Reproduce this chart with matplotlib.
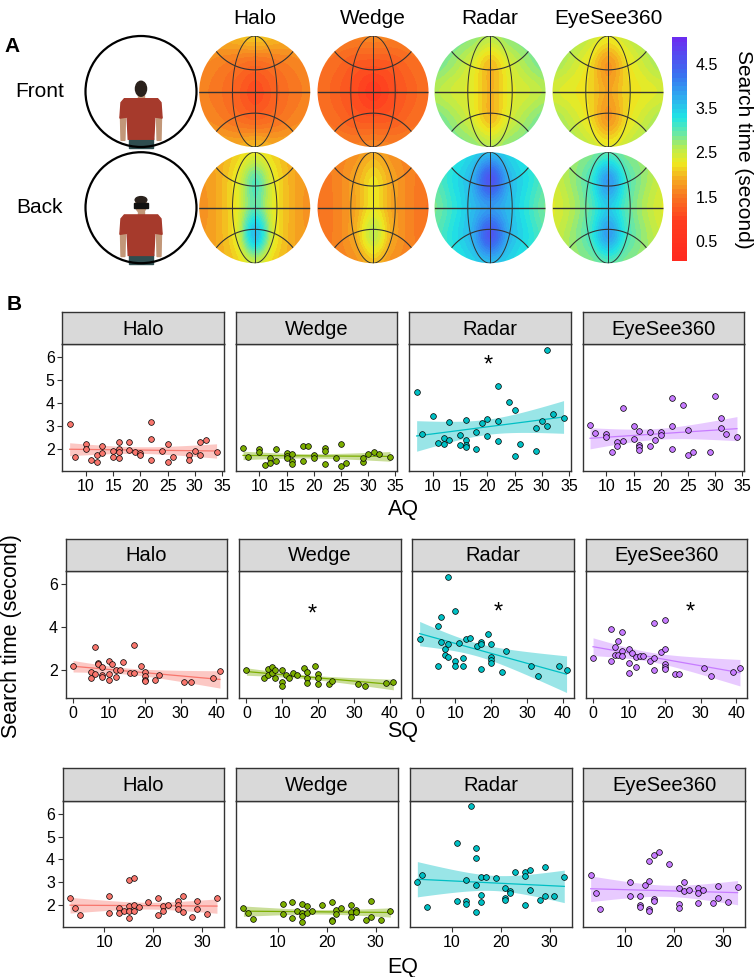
import numpy as np
import matplotlib.pyplot as plt
from matplotlib.colors import LinearSegmentedColormap, Normalize
from matplotlib.patches import Circle, Ellipse, Polygon, Rectangle
from matplotlib.cm import ScalarMappable

plt.rcParams['font.family'] = ['Liberation Sans', 'DejaVu Sans']

W, H = 754, 977

# ---------------- panel A data: search time over the sphere
# 5 rows (top -> bottom) x 7 columns (left -> right)
techniques = ['Halo', 'Wedge', 'Radar', 'EyeSee360']
views = ['Front', 'Back']

front_halo = [[1.9, 1.9, 2.0, 2.1, 2.0, 1.9, 1.9],
              [1.7, 1.6, 1.5, 1.4, 1.5, 1.6, 1.7],
              [1.6, 1.5, 1.3, 1.1, 1.3, 1.5, 1.6],
              [1.7, 1.6, 1.45, 1.35, 1.45, 1.6, 1.7],
              [1.9, 1.9, 1.9, 2.0, 1.9, 1.9, 1.9]]
front_wedge = [[1.6, 1.6, 1.6, 1.65, 1.6, 1.6, 1.6],
               [1.5, 1.4, 1.25, 1.2, 1.25, 1.4, 1.5],
               [1.45, 1.3, 1.1, 0.9, 1.1, 1.3, 1.45],
               [1.5, 1.4, 1.25, 1.2, 1.25, 1.4, 1.5],
               [1.6, 1.6, 1.6, 1.65, 1.6, 1.6, 1.6]]
front_radar = [[3.0, 2.9, 2.8, 2.6, 2.8, 2.9, 3.0],
               [2.9, 2.7, 2.4, 2.0, 2.4, 2.7, 2.9],
               [2.6, 2.45, 2.3, 1.95, 2.3, 2.45, 2.6],
               [2.9, 2.7, 2.4, 2.0, 2.4, 2.7, 2.9],
               [3.0, 2.9, 2.8, 2.6, 2.8, 2.9, 3.0]]
front_eyesee = [[2.8, 2.7, 2.5, 2.3, 2.5, 2.7, 2.8],
                [2.7, 2.5, 2.2, 1.75, 2.2, 2.5, 2.7],
                [2.4, 2.3, 2.15, 1.85, 2.15, 2.3, 2.4],
                [2.7, 2.5, 2.2, 1.75, 2.2, 2.5, 2.7],
                [2.8, 2.7, 2.5, 2.3, 2.5, 2.7, 2.8]]
back_halo = [[1.8, 1.9, 2.1, 2.3, 2.1, 1.9, 1.8],
             [1.75, 1.9, 2.3, 3.0, 2.3, 1.9, 1.75],
             [1.7, 1.9, 2.3, 3.0, 2.3, 1.9, 1.7],
             [1.75, 1.9, 2.35, 3.6, 2.35, 1.9, 1.75],
             [1.8, 1.9, 2.1, 2.5, 2.1, 1.9, 1.8]]
back_wedge = [[1.55, 1.6, 1.7, 1.9, 1.7, 1.6, 1.55],
              [1.5, 1.6, 1.85, 2.2, 1.85, 1.6, 1.5],
              [1.45, 1.6, 1.85, 2.25, 1.85, 1.6, 1.45],
              [1.5, 1.6, 1.9, 2.55, 1.9, 1.6, 1.5],
              [1.55, 1.6, 1.7, 2.0, 1.7, 1.6, 1.55]]
back_radar = [[3.1, 3.2, 3.4, 3.6, 3.4, 3.2, 3.1],
              [3.0, 3.3, 3.7, 4.6, 3.7, 3.3, 3.0],
              [2.85, 3.2, 3.6, 3.9, 3.6, 3.2, 2.85],
              [3.0, 3.3, 3.7, 4.55, 3.7, 3.3, 3.0],
              [3.1, 3.2, 3.4, 3.6, 3.4, 3.2, 3.1]]
back_eyesee = [[2.6, 2.7, 2.8, 3.0, 2.8, 2.7, 2.6],
               [2.45, 2.7, 3.1, 3.9, 3.1, 2.7, 2.45],
               [2.35, 2.6, 3.0, 3.5, 3.0, 2.6, 2.35],
               [2.45, 2.7, 3.1, 3.85, 3.1, 2.7, 2.45],
               [2.6, 2.7, 2.8, 3.0, 2.8, 2.7, 2.6]]

cbar_ticks = [0.5, 1.5, 2.5, 3.5, 4.5]

# ---------------- panel B data: questionnaire score vs search time
aq_halo_x = [7, 8, 10, 10, 11, 12, 12, 13, 13, 15, 15, 16, 16, 16, 16, 18, 18, 19, 20, 20, 22, 22, 22, 24, 25, 25, 26, 29, 29, 30, 31, 31, 32, 34]
aq_halo_y = [3.06, 1.65, 2.2, 1.97, 1.52, 1.72, 1.43, 2.1, 1.8, 1.88, 1.64, 2.3, 1.97, 1.85, 1.57, 2.29, 1.93, 1.84, 1.8, 1.7, 3.15, 2.4, 1.5, 1.9, 2.19, 1.41, 1.64, 1.7, 1.5, 1.9, 2.3, 1.72, 2.36, 1.84]
aq_wedge_x = [7, 8, 10, 10, 11, 12, 12, 13, 13, 15, 15, 15, 16, 16, 16, 18, 18, 19, 20, 20, 22, 22, 22, 24, 25, 25, 26, 29, 29, 30, 31, 32, 34]
aq_wedge_y = [2.03, 1.64, 1.97, 1.84, 1.28, 1.6, 1.38, 1.99, 1.46, 1.81, 1.68, 1.57, 1.75, 1.46, 1.32, 2.1, 1.46, 2.1, 1.72, 1.6, 2.01, 1.9, 1.33, 1.6, 2.2, 1.26, 1.39, 1.42, 1.57, 1.74, 1.84, 1.78, 1.65]
aq_radar_x = [7, 8, 10, 11, 12, 12, 13, 13, 15, 15, 16, 16, 16, 18, 18, 19, 20, 20, 22, 22, 22, 24, 25, 25, 26, 29, 29, 30, 31, 31, 32, 34, 16]
aq_radar_y = [4.48, 2.64, 3.42, 2.22, 2.45, 2.2, 3.17, 2.39, 2.59, 2.16, 3.23, 2.39, 2.16, 2.72, 1.97, 3.1, 3.29, 2.54, 4.71, 3.2, 2.32, 4.04, 3.68, 1.68, 2.19, 2.88, 1.88, 3.2, 6.3, 2.99, 3.51, 3.32, 2.08]
aq_eyesee_x = [7, 8, 10, 10, 11, 12, 12, 13, 13, 15, 15, 16, 16, 16, 16, 18, 18, 19, 20, 20, 22, 22, 22, 24, 25, 25, 26, 29, 30, 31, 31, 32, 34]
aq_eyesee_y = [3.04, 2.67, 2.65, 2.52, 1.86, 2.28, 2.1, 3.78, 2.32, 3.0, 2.42, 2.75, 2.14, 2.07, 1.94, 2.72, 2.1, 2.39, 2.72, 2.59, 4.2, 2.97, 2.0, 3.91, 2.81, 1.72, 1.87, 1.83, 4.3, 3.32, 2.88, 2.64, 2.52]

sq_halo_x = [0, 5, 5, 6, 6, 7, 7, 8, 8, 8, 10, 10, 10, 11, 12, 12, 13, 14, 16, 17, 17, 19, 20, 20, 20, 20, 23, 24, 31, 33, 39, 41]
sq_halo_y = [2.2, 1.91, 1.63, 3.07, 1.8, 2.31, 2.26, 2.11, 1.74, 1.66, 2.4, 1.8, 1.52, 2.29, 1.97, 1.67, 2.0, 2.37, 1.83, 3.15, 1.84, 2.19, 1.89, 1.69, 1.53, 1.47, 1.52, 1.74, 1.44, 1.43, 1.63, 1.94]
sq_wedge_x = [0, 5, 6, 6, 7, 7, 8, 8, 10, 10, 10, 11, 12, 13, 14, 16, 17, 17, 17, 19, 20, 20, 20, 23, 24, 31, 33, 39, 41]
sq_wedge_y = [1.97, 1.6, 2.03, 1.75, 2.12, 1.83, 1.97, 1.63, 2.0, 1.44, 1.27, 1.74, 1.6, 1.86, 1.75, 2.09, 1.92, 1.64, 1.41, 2.2, 1.81, 1.63, 1.33, 1.36, 1.49, 1.33, 1.27, 1.38, 1.44]
sq_radar_x = [0, 5, 5, 6, 6, 7, 7, 8, 8, 8, 10, 10, 10, 11, 12, 12, 13, 14, 16, 17, 17, 17, 19, 20, 20, 20, 20, 23, 24, 31, 33, 39, 41]
sq_radar_y = [3.43, 4.05, 2.17, 4.48, 3.29, 2.98, 2.71, 6.33, 3.19, 2.62, 4.74, 2.4, 2.2, 3.24, 2.53, 2.16, 3.44, 3.5, 3.09, 3.3, 3.21, 2.06, 3.67, 3.19, 2.62, 2.47, 2.31, 1.88, 2.87, 2.2, 1.69, 2.19, 1.97]
sq_eyesee_x = [0, 5, 5, 6, 6, 7, 7, 8, 8, 8, 10, 10, 10, 11, 12, 12, 13, 14, 16, 17, 17, 17, 19, 20, 20, 20, 20, 20, 23, 24, 31, 33, 39, 41]
sq_eyesee_y = [2.56, 3.92, 2.42, 3.04, 2.71, 3.32, 2.71, 3.77, 2.88, 2.65, 2.98, 2.31, 1.84, 2.79, 2.62, 2.14, 2.65, 2.65, 2.39, 4.2, 2.53, 1.97, 2.81, 4.33, 2.98, 2.25, 2.14, 2.02, 1.81, 1.81, 2.09, 1.72, 1.88, 2.09]

eq_halo_x = [3, 4, 5, 11, 11, 13, 13, 14, 15, 15, 15, 15, 16, 16, 16, 17, 19, 21, 21, 22, 22, 23, 25, 25, 25, 26, 26, 28, 29, 29, 31, 33]
eq_halo_y = [2.32, 1.86, 1.55, 2.42, 1.65, 1.88, 1.65, 1.75, 3.09, 1.94, 1.75, 1.43, 3.17, 1.99, 1.72, 1.93, 2.12, 2.3, 1.55, 1.94, 1.72, 2.01, 2.2, 2.0, 1.81, 2.38, 1.68, 1.46, 2.2, 1.81, 1.61, 2.32]
eq_wedge_x = [3, 4, 5, 11, 11, 13, 13, 14, 15, 15, 15, 15, 16, 16, 17, 19, 21, 21, 21, 22, 22, 23, 25, 25, 25, 26, 26, 28, 29, 29, 31, 33]
eq_wedge_y = [1.88, 1.67, 1.38, 2.03, 1.61, 2.12, 1.45, 1.74, 2.06, 1.65, 1.52, 1.28, 1.94, 1.65, 1.74, 2.0, 2.12, 1.35, 1.3, 1.8, 1.61, 1.88, 1.99, 1.71, 1.48, 1.8, 1.68, 1.35, 2.2, 1.48, 1.33, 1.75]
eq_radar_x = [3, 4, 5, 11, 11, 13, 13, 13, 14, 15, 15, 15, 15, 16, 16, 16, 17, 19, 21, 21, 21, 22, 22, 23, 25, 25, 25, 26, 26, 28, 29, 29, 31, 33]
eq_radar_y = [2.99, 3.32, 1.9, 4.74, 2.17, 3.12, 2.19, 2.07, 6.32, 4.49, 4.06, 2.9, 1.7, 3.22, 2.46, 2.14, 3.22, 3.2, 2.74, 2.33, 2.23, 2.62, 2.55, 3.43, 3.43, 3.29, 2.0, 3.52, 2.64, 2.22, 3.68, 2.41, 2.41, 3.23]
eq_eyesee_x = [3, 4, 5, 11, 11, 13, 13, 13, 14, 15, 15, 15, 15, 16, 16, 16, 17, 19, 21, 21, 21, 22, 22, 23, 25, 25, 25, 26, 28, 29, 29, 31, 33]
eq_eyesee_y = [3.32, 2.52, 1.83, 2.99, 2.42, 2.39, 2.0, 1.91, 2.9, 3.91, 3.06, 1.84, 1.72, 4.19, 2.28, 2.16, 4.32, 3.8, 2.75, 2.03, 1.86, 3.0, 2.61, 2.67, 2.74, 2.55, 2.1, 2.67, 2.1, 2.84, 2.33, 2.12, 2.78]

scales = ['AQ', 'SQ', 'EQ']
x_ticks = {'AQ': [10, 15, 20, 25, 30, 35], 'SQ': [0, 10, 20, 30, 40], 'EQ': [10, 20, 30]}
y_ticks = {'AQ': [2, 3, 4, 5, 6], 'SQ': [2, 4, 6], 'EQ': [2, 3, 4, 5, 6]}
# significant correlations: (scale, technique, x, y)
stars = [('AQ', 'Radar', 20.2, 5.6), ('SQ', 'Wedge', 18.4, 4.56),
         ('SQ', 'Radar', 21.9, 4.68), ('SQ', 'EyeSee360', 27.2, 4.67)]

table = {
    ('AQ', 'Halo'): (aq_halo_x, aq_halo_y), ('AQ', 'Wedge'): (aq_wedge_x, aq_wedge_y),
    ('AQ', 'Radar'): (aq_radar_x, aq_radar_y), ('AQ', 'EyeSee360'): (aq_eyesee_x, aq_eyesee_y),
    ('SQ', 'Halo'): (sq_halo_x, sq_halo_y), ('SQ', 'Wedge'): (sq_wedge_x, sq_wedge_y),
    ('SQ', 'Radar'): (sq_radar_x, sq_radar_y), ('SQ', 'EyeSee360'): (sq_eyesee_x, sq_eyesee_y),
    ('EQ', 'Halo'): (eq_halo_x, eq_halo_y), ('EQ', 'Wedge'): (eq_wedge_x, eq_wedge_y),
    ('EQ', 'Radar'): (eq_radar_x, eq_radar_y), ('EQ', 'EyeSee360'): (eq_eyesee_x, eq_eyesee_y),
}
spheres = {
    ('Front', 'Halo'): front_halo, ('Front', 'Wedge'): front_wedge,
    ('Front', 'Radar'): front_radar, ('Front', 'EyeSee360'): front_eyesee,
    ('Back', 'Halo'): back_halo, ('Back', 'Wedge'): back_wedge,
    ('Back', 'Radar'): back_radar, ('Back', 'EyeSee360'): back_eyesee,
}

colors = ['#F8766D', '#7CAE00', '#00BFC4', '#C77CFF']

cmap = LinearSegmentedColormap.from_list('st', [
    (0.0, '#ff2a1f'), (0.17, '#ff3c1f'), (0.29, '#f87a22'), (0.37, '#f5b020'),
    (0.435, '#eeea20'), (0.505, '#b8ec50'), (0.565, '#70e8a0'), (0.644, '#20e4e4'),
    (0.743, '#30a8f0'), (0.842, '#3a70f0'), (1.0, '#6a2ef0')]).resampled(50)
norm = Normalize(0.05, 5.1)


def rect(x0, y0, x1, y1):
    return [x0 / W, 1 - y1 / H, (x1 - x0) / W, (y1 - y0) / H]


def draw_sphere(ax, grid):
    clip = Circle((0, 0), 1, transform=ax.transData)
    g = np.array(grid)
    hx = 1 + 1 / (g.shape[1] - 1)
    hy = 1 + 1 / (g.shape[0] - 1)
    im = ax.imshow(g, extent=(-hx, hx, -hy, hy), cmap=cmap, norm=norm,
                   interpolation='catrom', aspect='auto')
    im.set_clip_path(clip)
    t = np.linspace(-np.pi / 2, np.pi / 2, 100)
    th = np.linspace(0, 2 * np.pi, 300)
    lines = []
    lines += ax.plot([-1, 1], [0, 0], color='#333333', lw=1.0)
    lines += ax.plot([0, 0], [-1, 1], color='#333333', lw=0.7)
    for s in (1, -1):
        lines += ax.plot(s * 0.4 * np.cos(t), np.sin(t), color='#333333', lw=0.7)
        lines += ax.plot(0.886 * np.cos(th), s * 1.276 + 0.886 * np.sin(th), color='#333333', lw=0.8)
    for ln in lines:
        ln.set_clip_path(clip)


def draw_person(ax, facing):
    skin, shirt, shorts, hair = '#c29778', '#a63a2c', '#2f4d4f', '#2a211c'
    ax.add_patch(Circle((0, 0), 1, fill=False, lw=1.6, color='black', zorder=5))
    ax.add_patch(Rectangle((-0.05, -0.16), 0.1, 0.1, color=skin, zorder=2))
    ax.add_patch(Polygon([(-0.3, -0.13), (0.3, -0.13), (0.36, -0.2), (0.38, -0.48),
                          (0.25, -0.46), (0.23, -0.86), (-0.23, -0.86), (-0.25, -0.46),
                          (-0.38, -0.48), (-0.36, -0.2)], color=shirt, zorder=3))
    for s in (1, -1):
        ax.add_patch(Polygon([(s * 0.28, -0.45), (s * 0.37, -0.45), (s * 0.36, -0.88),
                              (s * 0.29, -0.88)], color=skin, zorder=2))
    ax.add_patch(Rectangle((-0.22, -1.02), 0.44, 0.18, color=shorts, zorder=2))
    if facing:
        ax.add_patch(Ellipse((0, 0.05), 0.2, 0.27, color=skin, zorder=3))
        ax.add_patch(Ellipse((0, 0.14), 0.21, 0.12, color=hair, zorder=3))
        ax.add_patch(Rectangle((-0.13, 0.0), 0.26, 0.09, color='#111111', zorder=4))
    else:
        ax.add_patch(Ellipse((0, 0.05), 0.2, 0.27, color=hair, zorder=3))


fig = plt.figure(figsize=(W / 100, H / 100), dpi=100)

# ---------------- panel A
R = 55.5
sphere_x = [254.7, 373, 490, 608]
sphere_y = [91.5, 207.7]
for r, view in enumerate(views):
    cy = sphere_y[r]
    pax = fig.add_axes(rect(141 - 1.1 * R, cy - 1.1 * R, 141 + 1.1 * R, cy + 1.1 * R))
    pax.set_xlim(-1.1, 1.1)
    pax.set_ylim(-1.1, 1.1)
    pax.axis('off')
    draw_person(pax, facing=(view == 'Back'))
    fig.text(40 / W, 1 - cy / H, view, fontsize=15, ha='center', va='center')
    for c, tech in enumerate(techniques):
        cx = sphere_x[c]
        ax = fig.add_axes(rect(cx - 1.1 * R, cy - 1.1 * R, cx + 1.1 * R, cy + 1.1 * R))
        draw_sphere(ax, spheres[(view, tech)])
        ax.set_xlim(-1.1, 1.1)
        ax.set_ylim(-1.1, 1.1)
        ax.axis('off')
        if r == 0:
            fig.text(cx / W, 1 - 18 / H, tech, fontsize=15, ha='center', va='center')

cax = fig.add_axes(rect(672, 37.3, 687, 260.7))
cb = fig.colorbar(ScalarMappable(norm=norm, cmap=cmap), cax=cax)
cb.outline.set_visible(False)
cb.set_ticks(cbar_ticks)
cb.set_ticklabels([f'{v:.1f}' for v in cbar_ticks])
cax.tick_params(length=0, labelsize=11.5, pad=6)
fig.text(743 / W, 1 - 149 / H, 'Search time (second)', fontsize=15, rotation=270,
         ha='center', va='center')
fig.text(12 / W, 1 - 47 / H, 'A', fontsize=15, fontweight='bold', ha='center', va='center')

# ---------------- panel B
row_geom = {'AQ': (312.3, 344, 471.3, [62.3, 235.7, 409.3, 582.7], 510),
            'SQ': (539, 571, 698.3, [65.7, 239.1, 412.3, 585.7], 731),
            'EQ': (768.3, 800.7, 927.3, [62.7, 236.1, 410, 583.3], 967)}
pw = 161.6


def fit_band(x, y):
    x = np.asarray(x, float)
    y = np.asarray(y, float)
    n = len(x)
    b1, b0 = np.polyfit(x, y, 1)
    xs = np.linspace(x.min(), x.max(), 80)
    s = np.sqrt(np.sum((y - (b0 + b1 * x)) ** 2) / (n - 2))
    sxx = np.sum((x - x.mean()) ** 2)
    se = s * np.sqrt(1 / n + (xs - x.mean()) ** 2 / sxx)
    yh = b0 + b1 * xs
    return xs, yh, yh - 2.04 * se, yh + 2.04 * se


for sc in scales:
    st, pt, pb, lefts, title_y = row_geom[sc]
    fits = {tech: fit_band(*table[(sc, tech)]) for tech in techniques}
    lo = min(min(min(table[(sc, t)][1]), fits[t][2].min()) for t in techniques)
    hi = max(max(max(table[(sc, t)][1]), fits[t][3].max()) for t in techniques)
    pad = 0.05 * (hi - lo)
    for c, tech in enumerate(techniques):
        x, y = table[(sc, tech)]
        xs, yh, ylo, yhi = fits[tech]
        ax = fig.add_axes(rect(lefts[c], pt, lefts[c] + pw, pb))
        ax.fill_between(xs, ylo, yhi, color=colors[c], alpha=0.4, lw=0)
        ax.plot(xs, yh, color=colors[c], lw=0.9)
        ax.scatter(x, y, s=17, c=colors[c], edgecolors='black', linewidths=0.5, zorder=3)
        xpad = 0.05 * (max(x) - min(x))
        ax.set_xlim(min(x) - xpad, max(x) + xpad)
        ax.set_ylim(lo - pad, hi + pad)
        ax.set_xticks(x_ticks[sc])
        ax.set_yticks(y_ticks[sc])
        ax.tick_params(direction='out', length=3.5, width=0.8, color='#333333',
                       labelsize=11.5, pad=2)
        if c > 0:
            ax.tick_params(axis='y', left=False, labelleft=False)
        for sp in ax.spines.values():
            sp.set_color('#333333')
            sp.set_linewidth(1.0)
        for (s_sc, s_t, sx, sy) in stars:
            if s_sc == sc and s_t == tech:
                ax.text(sx, sy, '*', fontsize=17, ha='center', va='center')
        sax = fig.add_axes(rect(lefts[c], st, lefts[c] + pw, pt))
        sax.set_facecolor('#d9d9d9')
        sax.set_xticks([])
        sax.set_yticks([])
        for sp in sax.spines.values():
            sp.set_color('#333333')
            sp.set_linewidth(1.0)
        sax.text(0.5, 0.47, tech, fontsize=14.5, ha='center', va='center',
                 transform=sax.transAxes)
    fig.text(403 / W, 1 - title_y / H, sc, fontsize=15.5, ha='center', va='center')

fig.text(12 / W, 1 - 636 / H, 'Search time (second)', fontsize=15.5, rotation=90,
         ha='center', va='center')
fig.text(14 / W, 1 - 305 / H, 'B', fontsize=15, fontweight='bold', ha='center', va='center')

fig.savefig('out.png', dpi=100)
